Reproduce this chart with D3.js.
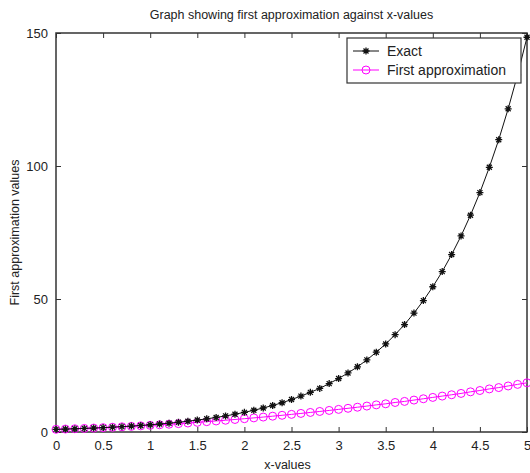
<!DOCTYPE html>
<html>
<head>
<meta charset="utf-8">
<script src="https://cdn.jsdelivr.net/npm/d3@7"></script>
<style>
body { margin: 0; background: #fff; }
text { font-family: "Liberation Sans", Arial, sans-serif; fill: #222; }
</style>
</head>
<body>
<svg id="chart" width="530" height="473"></svg>
<script>
const xValues = [0, 0.1, 0.2, 0.3, 0.4, 0.5, 0.6, 0.7, 0.8, 0.9, 1.0, 1.1, 1.2, 1.3, 1.4, 1.5, 1.6, 1.7, 1.8, 1.9,
    2.0, 2.1, 2.2, 2.3, 2.4, 2.5, 2.6, 2.7, 2.8, 2.9, 3.0, 3.1, 3.2, 3.3, 3.4, 3.5, 3.6, 3.7, 3.8, 3.9,
    4.0, 4.1, 4.2, 4.3, 4.4, 4.5, 4.6, 4.7, 4.8, 4.9, 5.0];
const exactValues = [1, 1.11, 1.22, 1.35, 1.49, 1.65, 1.82, 2.01, 2.23, 2.46, 2.72, 3.0, 3.32, 3.67, 4.06, 4.48, 4.95, 5.47, 6.05, 6.69,
    7.39, 8.17, 9.03, 9.97, 11.0, 12.2, 13.5, 14.9, 16.4, 18.2, 20.1, 22.2, 24.5, 27.1, 30.0, 33.1, 36.6, 40.4, 44.7, 49.4,
    54.6, 60.3, 66.7, 73.7, 81.5, 90.0, 99.5, 109.9, 121.5, 134.3, 148.4];
const approxValues = [1, 1.11, 1.22, 1.35, 1.48, 1.63, 1.78, 1.95, 2.12, 2.31, 2.5, 2.71, 2.92, 3.15, 3.38, 3.63, 3.88, 4.15, 4.42, 4.71,
    5.0, 5.31, 5.62, 5.95, 6.28, 6.63, 6.98, 7.35, 7.72, 8.11, 8.5, 8.91, 9.32, 9.75, 10.2, 10.6, 11.1, 11.5, 12.0, 12.5,
    13.0, 13.5, 14.0, 14.5, 15.1, 15.6, 16.2, 16.7, 17.3, 17.9, 18.5];
const xTicks = [0, 0.5, 1, 1.5, 2, 2.5, 3, 3.5, 4, 4.5, 5];
const yTicks = [0, 50, 100, 150];
const seriesNames = ["Exact", "First approximation"];

var margin = {top: 33, right: 3, bottom: 41, left: 56},
    width = 530 - margin.left - margin.right,
    height = 473 - margin.top - margin.bottom;

var svg = d3.select("#chart");
var g = svg.append("g")
    .attr("transform", "translate(" + margin.left + "," + margin.top + ")");

var x = d3.scaleLinear().domain([0, 5]).range([0, width]);
var y = d3.scaleLinear().domain([0, 150]).range([height, 0]);

// axes with inward ticks, MATLAB style box
var axisColor = "#333";
function styleAxis(sel) {
    sel.select(".domain").remove();
    sel.selectAll(".tick line").attr("stroke", axisColor);
    sel.selectAll(".tick text").style("font-size", "13px").attr("fill", "#222");
}
g.append("g").attr("transform", "translate(0," + height + ")")
    .call(d3.axisBottom(x).tickValues(xTicks).tickSizeInner(-5).tickSizeOuter(0).tickPadding(9).tickFormat(d3.format("")))
    .call(styleAxis);
g.append("g")
    .call(d3.axisTop(x).tickValues(xTicks).tickSizeInner(-5).tickSizeOuter(0).tickFormat(""))
    .call(styleAxis);
g.append("g")
    .call(d3.axisLeft(y).tickValues(yTicks).tickSizeInner(-5).tickSizeOuter(0).tickPadding(8))
    .call(styleAxis);
g.append("g").attr("transform", "translate(" + width + ",0)")
    .call(d3.axisRight(y).tickValues(yTicks).tickSizeInner(-5).tickSizeOuter(0).tickFormat(""))
    .call(styleAxis);
g.append("rect")
    .attr("width", width).attr("height", height)
    .attr("fill", "none").attr("stroke", axisColor).attr("stroke-width", 1.5);

var exactData = xValues.map((d, i) => ({x: d, y: exactValues[i]}));
var approxData = xValues.map((d, i) => ({x: d, y: approxValues[i]}));
var line = d3.line().x(d => x(d.x)).y(d => y(d.y));

var star = "M-3.5,0L3.5,0M0,-3.5L0,3.5M-2.5,-2.5L2.5,2.5M-2.5,2.5L2.5,-2.5";

// first approximation
g.append("path").datum(approxData)
    .attr("fill", "none").attr("stroke", "#ff00ff").attr("stroke-width", 1)
    .attr("d", line);
g.selectAll(".approx").data(approxData).enter().append("circle")
    .attr("cx", d => x(d.x)).attr("cy", d => y(d.y)).attr("r", 4)
    .attr("fill", "none").attr("stroke", "#ff00ff").attr("stroke-width", 1);

// exact
g.append("path").datum(exactData)
    .attr("fill", "none").attr("stroke", "#111").attr("stroke-width", 1)
    .attr("d", line);
g.selectAll(".exact").data(exactData).enter().append("path")
    .attr("transform", d => "translate(" + x(d.x) + "," + y(d.y) + ")")
    .attr("d", star).attr("stroke", "#111").attr("stroke-width", 1.3).attr("fill", "none");

// legend
var legend = svg.append("g").attr("transform", "translate(347,38)");
legend.append("rect").attr("width", 174).attr("height", 45)
    .attr("fill", "#fff").attr("stroke", axisColor).attr("stroke-width", 1.2);
[0, 1].forEach(function(i) {
    var ly = 13 + i * 19;
    legend.append("line").attr("x1", 6).attr("x2", 32).attr("y1", ly).attr("y2", ly)
        .attr("stroke", i == 0 ? "#111" : "#ff00ff");
    if (i == 0) {
        legend.append("path").attr("transform", "translate(19," + ly + ")")
            .attr("d", star).attr("stroke", "#111").attr("stroke-width", 1.3);
    } else {
        legend.append("circle").attr("cx", 19).attr("cy", ly).attr("r", 4)
            .attr("fill", "none").attr("stroke", "#ff00ff");
    }
    legend.append("text").attr("x", 40).attr("y", ly + 5)
        .style("font-size", "14px").text(seriesNames[i]);
});

// title and labels
svg.append("text").attr("x", margin.left + width / 2).attr("y", 19)
    .attr("text-anchor", "middle").style("font-size", "12.5px")
    .text("Graph showing first approximation against x-values");
svg.append("text").attr("x", margin.left + width / 2 - 4).attr("y", 469)
    .attr("text-anchor", "middle").style("font-size", "12.5px").text("x-values");
svg.append("text").attr("transform", "translate(19," + (margin.top + height / 2) + ") rotate(-90)")
    .attr("text-anchor", "middle").style("font-size", "12.5px").text("First approximation values");
</script>
</body>
</html>
